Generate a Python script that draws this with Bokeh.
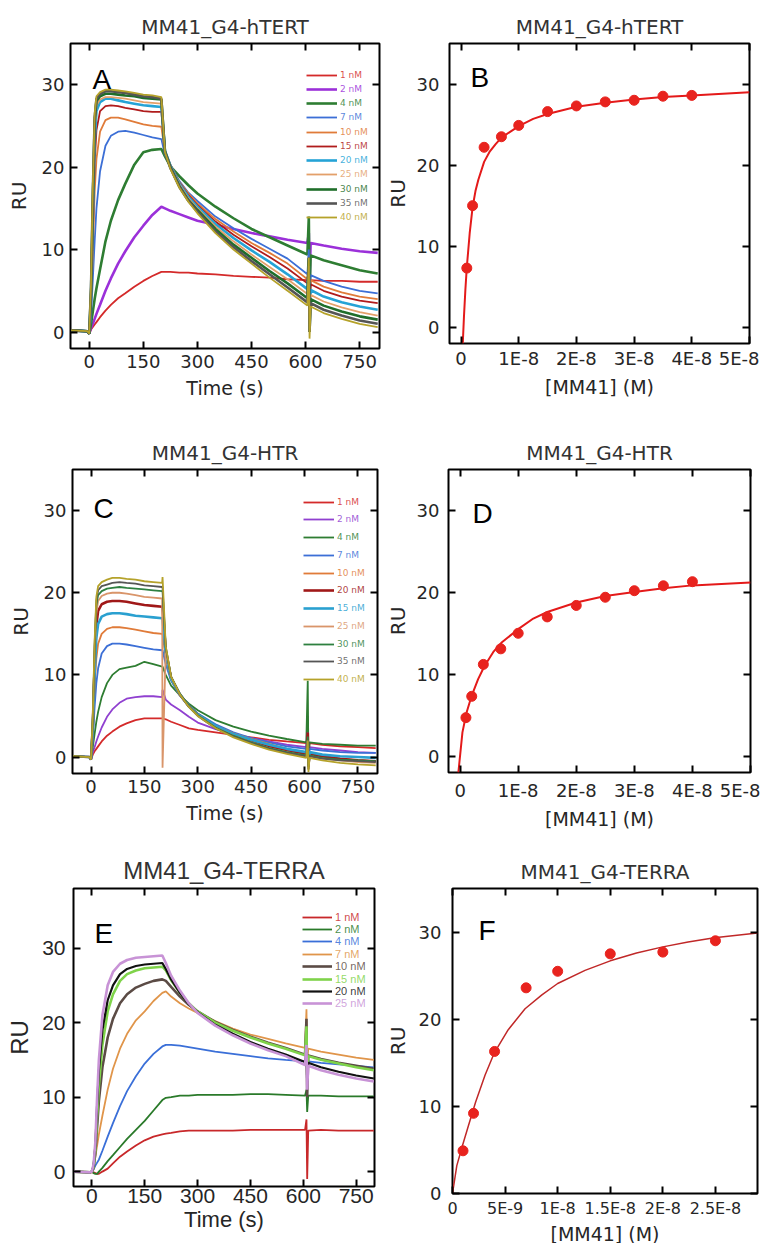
from bokeh.plotting import figure
from bokeh.models import (Range1d, LinearAxis, FixedTicker, Label, Legend, LegendItem,
                          CustomJSTickFormatter)
from bokeh.layouts import column, row
from bokeh.embed import file_html
from bokeh.resources import INLINE

# ---------------- Panel A : MM41_G4-hTERT sensorgrams ----------------
time_A = [-50, -5, 0, 5, 10, 15, 20, 30, 45, 60, 80, 100, 125, 150, 175, 200, 210, 225, 250, 275,
          300, 350, 400, 450, 500, 550, 605, 609, 611, 614, 650, 700, 750, 800]
a_1nM = [0.2, 0.1, -0.2, 0.3, 0.6, 0.9, 1.2, 1.8, 2.6, 3.3, 4.1, 4.7, 5.5, 6.2, 6.8, 7.3, 7.3, 7.3, 7.2, 7.2,
         7.1, 7.0, 6.8, 6.7, 6.6, 6.4, 6.3, 8.0, 4.0, 6.3, 6.2, 6.2, 6.1, 6.1]
a_2nM = [0.2, 0.1, -0.2, 0.5, 1.0, 1.6, 2.2, 3.3, 5.0, 6.5, 8.3, 9.8, 11.5, 12.9, 14.2, 15.2, 15.0, 14.7, 14.3, 13.9,
         13.5, 13.0, 12.5, 12.0, 11.6, 11.2, 10.8, 12.0, 6.0, 10.8, 10.5, 10.1, 9.8, 9.6]
a_4nM = [0.2, 0.1, -0.2, 1.0, 2.5, 4.0, 5.3, 7.6, 11.0, 13.5, 16.0, 18.0, 20.3, 21.8, 22.1, 22.2, 21.3, 20.1, 18.9, 17.8,
         16.8, 15.2, 13.8, 12.5, 11.5, 10.5, 9.4, 14.0, 4.0, 9.3, 8.7, 8.1, 7.5, 7.1]
a_7nM = [0.2, 0.1, -0.2, 2.0, 6.5, 11.0, 15.0, 19.5, 22.6, 23.8, 24.3, 24.4, 24.2, 23.9, 23.6, 23.4, 21.5, 20.2, 18.3, 16.9,
         15.9, 14.0, 12.6, 11.3, 10.1, 8.9, 7.0, 10.0, 3.0, 6.9, 6.2, 5.5, 5.0, 4.7]
a_10nM = [0.2, 0.1, -0.2, 3.0, 10.0, 17.0, 21.0, 24.3, 25.7, 26.0, 26.0, 25.8, 25.5, 25.2, 25.0, 24.9, 21.8, 20.3, 18.2, 16.8,
          15.6, 13.7, 12.2, 10.8, 9.6, 8.3, 6.4, 9.0, 2.0, 6.3, 5.5, 4.8, 4.3, 4.0]
a_15nM = [0.2, 0.1, -0.2, 3.5, 12.0, 20.5, 24.5, 26.8, 27.4, 27.5, 27.4, 27.2, 27.0, 26.8, 26.7, 26.7, 22.0, 20.3, 18.1, 16.6,
          15.4, 13.4, 11.8, 10.4, 9.1, 7.7, 5.9, 9.0, 2.0, 5.8, 5.0, 4.3, 3.8, 3.5]
a_20nM = [0.2, 0.1, -0.2, 4.0, 14.0, 23.0, 26.8, 27.9, 28.3, 28.3, 28.1, 27.9, 27.7, 27.5, 27.4, 27.3, 22.0, 20.2, 18.0, 16.4,
          15.2, 13.1, 11.4, 9.9, 8.5, 7.0, 5.2, 8.0, 1.0, 5.1, 4.3, 3.6, 3.1, 2.7]
a_25nM = [0.2, 0.1, -0.2, 4.5, 15.0, 24.5, 27.5, 28.2, 28.5, 28.5, 28.4, 28.3, 28.1, 27.9, 27.8, 27.7, 22.0, 20.1, 17.9, 16.2,
          15.0, 12.8, 11.0, 9.4, 7.9, 6.4, 4.6, 8.0, 1.0, 4.5, 3.7, 3.0, 2.4, 2.0]
a_30nM = [0.2, 0.1, -0.2, 5.0, 16.0, 25.5, 28.0, 28.6, 28.9, 28.9, 28.8, 28.7, 28.6, 28.4, 28.3, 28.2, 21.9, 20.0, 17.7, 16.0,
          14.8, 12.5, 10.6, 9.0, 7.4, 5.9, 4.1, 9.0, 0.0, 4.0, 3.2, 2.5, 1.9, 1.5]
a_35nM = [0.2, 0.1, -0.2, 5.5, 17.0, 26.0, 28.3, 28.9, 29.2, 29.2, 29.1, 29.0, 28.8, 28.6, 28.5, 28.3, 21.8, 19.9, 17.6, 15.9,
          14.6, 12.2, 10.3, 8.6, 7.0, 5.4, 3.6, 8.0, 0.0, 3.5, 2.7, 2.0, 1.4, 1.0]
a_40nM = [0.2, 0.1, -0.2, 6.0, 18.0, 26.5, 28.6, 29.1, 29.4, 29.4, 29.3, 29.2, 29.0, 28.8, 28.7, 28.5, 21.8, 19.8, 17.5, 15.8,
          14.4, 12.0, 10.0, 8.3, 6.6, 5.0, 3.2, 9.0, -0.8, 3.1, 2.3, 1.6, 1.0, 0.6]
labels_A = ["1 nM", "2 nM", "4 nM", "7 nM", "10 nM", "15 nM", "20 nM", "25 nM", "30 nM", "35 nM", "40 nM"]
series_A = [a_1nM, a_2nM, a_4nM, a_7nM, a_10nM, a_15nM, a_20nM, a_25nM, a_30nM, a_35nM, a_40nM]
colors_A = ["#d42a2a", "#9b30d9", "#2e7d32", "#3c6fd6", "#e07b39", "#b01c1c", "#25a3d6", "#e3a06a",
            "#1f6e2a", "#555555", "#b5a22a"]
widths_A = [1.8, 2.6, 2.6, 1.8, 1.8, 1.8, 2.6, 1.8, 2.6, 2.6, 1.8]

# ---------------- Panel C : MM41_G4-HTR sensorgrams ----------------
time_C = [-50, -5, 0, 5, 10, 15, 20, 30, 45, 60, 80, 100, 125, 150, 175, 200, 201, 210, 225, 250, 275,
          300, 350, 400, 450, 500, 550, 605, 609, 611, 614, 650, 700, 750, 800]
c_1nM = [0.1, 0.0, -0.3, 0.3, 0.7, 1.0, 1.3, 1.9, 2.6, 3.1, 3.7, 4.1, 4.5, 4.7, 4.7, 4.7, 4.7, 4.6, 4.3, 3.9, 3.5,
         3.3, 3.0, 2.7, 2.4, 2.1, 1.9, 1.7, 2.0, 0.0, 1.7, 1.5, 1.3, 1.2, 1.1]
c_2nM = [0.1, 0.0, -0.3, 0.6, 1.2, 1.9, 2.5, 3.6, 4.9, 5.8, 6.6, 7.1, 7.3, 7.4, 7.4, 7.3, 8.2, 7.0, 6.4, 5.7, 4.9,
         4.2, 3.4, 2.8, 2.3, 1.9, 1.5, 1.2, 5.0, -0.5, 1.2, 1.0, 0.8, 0.6, 0.5]
c_4nM = [0.1, 0.0, -0.3, 1.2, 2.8, 4.3, 5.5, 7.3, 9.0, 10.0, 10.7, 10.9, 11.1, 11.6, 11.3, 11.0, 11.0, 10.0, 8.7, 7.5, 6.5,
         5.7, 4.5, 3.7, 3.1, 2.6, 2.2, 1.8, 9.3, -1.0, 1.8, 1.6, 1.5, 1.4, 1.4]
c_7nM = [0.1, 0.0, -0.3, 2.2, 6.0, 9.0, 10.8, 12.6, 13.5, 13.8, 13.8, 13.7, 13.5, 13.3, 13.1, 13.0, 13.0, 11.3, 9.3, 7.5, 6.3,
         5.3, 4.0, 3.0, 2.3, 1.8, 1.3, 1.0, 3.0, -1.0, 1.0, 0.8, 0.6, 0.5, 0.5]
c_10nM = [0.1, 0.0, -0.3, 3.0, 8.5, 12.0, 13.8, 15.0, 15.6, 15.8, 15.8, 15.7, 15.5, 15.3, 15.1, 15.0, 15.0, 12.0, 9.4, 7.5, 6.2,
          5.2, 3.8, 2.9, 2.2, 1.6, 1.0, 0.5, 2.5, -1.0, 0.5, 0.1, -0.2, -0.4, -0.5]
c_20nM = [0.1, 0.0, -0.3, 3.8, 11.0, 16.0, 17.8, 18.6, 18.9, 19.0, 19.0, 18.9, 18.7, 18.5, 18.4, 18.3, 18.3, 12.8, 9.6, 7.6, 6.2,
          5.2, 3.7, 2.7, 2.0, 1.3, 0.8, 0.4, 3.0, -1.0, 0.4, 0.1, -0.2, -0.4, -0.5]
c_15nM = [0.1, 0.0, -0.3, 3.5, 10.0, 14.5, 16.2, 17.1, 17.4, 17.5, 17.5, 17.4, 17.2, 17.1, 17.0, 16.9, 16.9, 12.5, 9.5, 7.6, 6.2,
          5.2, 3.8, 2.8, 2.1, 1.5, 1.0, 0.6, 2.0, -1.0, 0.6, 0.3, 0.1, 0.0, -0.1]
c_25nM = [0.1, 0.0, -0.3, 4.2, 12.0, 17.5, 19.0, 19.6, 19.9, 20.0, 20.0, 19.9, 19.7, 19.5, 19.4, 19.3, -1.3, 13.0, 9.7, 7.6, 6.2,
          5.1, 3.6, 2.6, 1.8, 1.1, 0.6, 0.1, 2.0, -1.5, 0.1, -0.2, -0.4, -0.6, -0.7]
c_30nM = [0.1, 0.0, -0.3, 4.5, 13.0, 18.5, 19.7, 20.2, 20.5, 20.6, 20.7, 20.6, 20.5, 20.4, 20.3, 20.2, 20.2, 13.3, 9.8, 7.7, 6.2,
          5.1, 3.6, 2.6, 1.8, 1.1, 0.6, 0.2, 2.5, -1.2, 0.2, -0.1, -0.3, -0.4, -0.5]
c_35nM = [0.1, 0.0, -0.3, 4.8, 13.5, 19.0, 20.3, 20.8, 21.0, 21.2, 21.3, 21.2, 21.1, 20.9, 20.8, 20.7, 20.7, 13.4, 9.8, 7.6, 6.1,
          5.0, 3.5, 2.5, 1.7, 1.0, 0.5, 0.1, 2.0, -1.5, 0.1, -0.2, -0.4, -0.5, -0.6]
c_40nM = [0.1, 0.0, -0.3, 5.0, 14.0, 19.5, 20.8, 21.3, 21.6, 21.8, 21.8, 21.7, 21.6, 21.4, 21.3, 21.2, 21.9, 13.5, 9.8, 7.6, 6.1,
          5.0, 3.5, 2.4, 1.6, 0.9, 0.4, -0.1, 2.0, -1.8, -0.1, -0.4, -0.7, -0.9, -1.0]
labels_C = ["1 nM", "2 nM", "4 nM", "7 nM", "10 nM", "20 nM", "15 nM", "25 nM", "30 nM", "35 nM", "40 nM"]
series_C = [c_1nM, c_2nM, c_4nM, c_7nM, c_10nM, c_20nM, c_15nM, c_25nM, c_30nM, c_35nM, c_40nM]
colors_C = ["#d42a2a", "#9040d0", "#2e7d32", "#3c6fd6", "#e07b39", "#a01818", "#2aa0d0", "#d9956a",
            "#2e8040", "#555555", "#b5a22a"]
widths_C = [1.8, 1.8, 1.8, 1.8, 1.8, 2.6, 2.6, 1.8, 1.8, 1.8, 1.8]

# ---------------- Panel E : MM41_G4-TERRA sensorgrams ----------------
time_E = [-50, -5, 0, 5, 10, 15, 20, 30, 45, 60, 80, 100, 125, 150, 175, 200, 210, 225, 250, 275,
          300, 350, 400, 450, 500, 550, 605, 609, 611, 614, 650, 700, 750, 800]
e_1nM = [0.0, -0.1, -0.1, -0.1, -0.2, -0.3, -0.3, 0.0, 0.4, 1.1, 2.0, 2.7, 3.5, 4.2, 4.7, 5.0, 5.1, 5.2, 5.4, 5.5,
         5.5, 5.5, 5.5, 5.6, 5.6, 5.6, 5.6, 7.0, -1.0, 5.5, 5.6, 5.5, 5.5, 5.5]
e_2nM = [0.0, -0.1, 0.0, -0.2, -0.3, -0.3, 0.0, 0.5, 1.4, 2.2, 3.3, 4.4, 5.6, 6.8, 8.2, 9.6, 9.9, 10.0, 10.2, 10.2,
         10.3, 10.3, 10.3, 10.4, 10.4, 10.3, 10.2, 11.0, 8.0, 10.2, 10.2, 10.1, 10.1, 10.1]
e_4nM = [0.0, -0.1, 0.0, 0.3, 0.8, 1.2, 1.6, 2.8, 4.7, 6.5, 8.8, 10.8, 12.8, 14.5, 15.8, 16.8, 17.0, 17.0, 16.9, 16.7,
         16.5, 16.1, 15.8, 15.5, 15.2, 15.0, 14.8, 15.5, 13.5, 14.8, 14.6, 14.4, 14.2, 14.0]
e_7nM = [0.0, -0.1, 0.0, 0.5, 2.0, 3.5, 5.0, 7.5, 11.0, 13.8, 16.5, 18.5, 20.3, 21.5, 22.9, 24.0, 24.2, 23.5, 22.6, 21.9,
         21.3, 20.2, 19.2, 18.4, 17.8, 17.2, 16.6, 21.8, 15.0, 16.5, 16.1, 15.7, 15.3, 15.0]
e_10nM = [0.0, -0.1, 0.0, 0.5, 2.5, 6.0, 9.5, 14.0, 18.0, 20.5, 22.6, 23.8, 24.7, 25.2, 25.6, 25.8, 25.6, 24.8, 23.5, 22.4,
          21.5, 20.1, 19.0, 18.1, 17.3, 16.6, 15.7, 20.5, 10.0, 15.6, 15.1, 14.6, 14.2, 13.8]
e_15nM = [0.0, -0.1, 0.0, 0.6, 3.0, 7.5, 11.5, 17.0, 21.5, 23.8, 25.6, 26.5, 27.0, 27.3, 27.4, 27.5, 27.0, 25.7, 24.0, 22.6,
          21.5, 20.0, 18.9, 18.0, 17.2, 16.5, 15.6, 19.5, 13.0, 15.5, 15.0, 14.5, 14.0, 13.6]
e_20nM = [0.0, -0.1, 0.0, 0.8, 3.5, 9.0, 13.5, 19.0, 23.0, 25.0, 26.5, 27.2, 27.6, 27.8, 27.9, 28.0, 27.2, 25.8, 24.0, 22.5,
          21.4, 19.7, 18.5, 17.4, 16.5, 15.7, 14.7, 16.0, 12.0, 14.6, 14.0, 13.4, 12.9, 12.5]
e_25nM = [0.0, -0.1, 0.0, 1.0, 4.0, 10.0, 15.0, 21.0, 25.0, 26.8, 27.9, 28.4, 28.7, 28.8, 28.9, 29.0, 28.0, 26.3, 24.3, 22.6,
          21.3, 19.6, 18.3, 17.2, 16.3, 15.5, 14.3, 17.0, 11.0, 14.2, 13.6, 13.0, 12.5, 12.1]
labels_E = ["1 nM", "2 nM", "4 nM", "7 nM", "10 nM", "15 nM", "20 nM", "25 nM"]
series_E = [e_1nM, e_2nM, e_4nM, e_7nM, e_10nM, e_15nM, e_20nM, e_25nM]
colors_E = ["#c8282a", "#2a7a2a", "#3a6fd8", "#e0954a", "#5b4b45", "#7fd34a", "#111111", "#c893d6"]
widths_E = [1.8, 1.8, 1.8, 1.8, 2.6, 2.6, 2.2, 2.6]

# ---------------- Panels B, D, F : steady-state binding ----------------
conc_B_nM = [1, 2, 4, 7, 10, 15, 20, 25, 30, 35, 40]
ru_B = [7.3, 15.0, 22.2, 23.5, 24.9, 26.6, 27.3, 27.8, 28.0, 28.5, 28.6]
fit_B_x_nM = [0.3, 0.5, 0.75, 1.0, 1.5, 2.0, 2.5, 3.0, 4.0, 5.0, 6.0, 7.0, 8.5, 10, 12.5, 15, 20, 25, 30, 35, 40, 50]
fit_B_y = [-2.0, 1.2, 4.6, 7.4, 11.6, 14.8, 16.8, 18.2, 20.4, 21.7, 22.6, 23.4, 24.1, 24.8, 25.7, 26.3, 27.2, 27.7,
           28.1, 28.4, 28.6, 29.0]

conc_D_nM = [1, 2, 4, 7, 10, 15, 20, 25, 30, 35, 40]
ru_D = [4.7, 7.3, 11.2, 13.1, 15.0, 17.0, 18.4, 19.4, 20.2, 20.8, 21.3]
fit_D_x_nM = [-0.3, 0.4, 1.1, 2.0, 3.1, 4.2, 5.8, 7.2, 10, 12.6, 15, 20, 25, 30, 35, 40, 50]
fit_D_y = [-2.0, 2.9, 5.3, 7.4, 9.4, 11.0, 12.8, 13.9, 15.5, 16.8, 17.6, 18.75, 19.55, 20.05, 20.5, 20.85, 21.2]

conc_F_nM = [1, 2, 4, 7, 10, 15, 20, 25]
ru_F = [4.9, 9.2, 16.3, 23.6, 25.5, 27.5, 27.7, 29.0]
fit_F_x_nM = [0, 0.41, 0.95, 1.52, 2.2, 3.1, 4.0, 5.3, 6.9, 8.5, 10, 12.6, 15, 17.5, 20, 22.4, 24.9, 29]
fit_F_y = [0, 3.2, 5.5, 7.8, 10.5, 13.6, 16.2, 18.8, 21.2, 22.8, 24.1, 25.6, 26.7, 27.6, 28.3, 28.85, 29.35, 29.9]

time_ticks = [0, 150, 300, 450, 600, 750]
ru_ticks = [0, 10, 20, 30]
conc_ticks_BD = [0, 1e-8, 2e-8, 3e-8, 4e-8, 5e-8]
conc_ticks_F = [0, 5e-9, 1e-8, 1.5e-8, 2e-8, 2.5e-8]

DJ = "DejaVu Sans"
LS = "Liberation Sans"
TXT = "#262626"


def sci_fmt():
    return CustomJSTickFormatter(code="""
        if (Math.abs(tick) < 1e-15) { return "0"; }
        var e = Math.floor(Math.log10(Math.abs(tick)) + 1e-9);
        var m = Math.round(tick / Math.pow(10, e) * 10) / 10;
        return m + "E" + e;
    """)


def make_fig(fw, fh, xr, yr, bl, br, bt, bb, title, tfont, tsize):
    p = figure(frame_width=fw, frame_height=fh, x_range=Range1d(*xr), y_range=Range1d(*yr),
               min_border_left=bl, min_border_right=br, min_border_top=bt, min_border_bottom=bb,
               toolbar_location=None, tools="", output_backend="svg")
    p.xgrid.visible = False
    p.ygrid.visible = False
    p.outline_line_color = "black"
    p.outline_line_width = 2
    p.outline_line_alpha = 1.0
    p.background_fill_color = "white"
    p.border_fill_color = "white"
    p.title.text = title
    p.title.align = "center"
    p.title.text_font = tfont
    p.title.text_font_size = tsize
    p.title.text_font_style = "normal"
    p.title.text_color = "#333333"
    p.title.standoff = 10
    return p


def style_axes(p, xticks, yticks, font, ytick_fs, xtick_fs, xlab_fs, ylab_fs, xlabel, ylabel,
               xfmt=None, xst=4, yst=6, xlst=4, ylst=8):
    xa = p.xaxis[0]
    ya = p.yaxis[0]
    xa.ticker = FixedTicker(ticks=xticks)
    ya.ticker = FixedTicker(ticks=yticks)
    if xfmt is not None:
        xa.formatter = xfmt
    for ax, fs, st, lfs, lst, lab in ((xa, xtick_fs, xst, xlab_fs, xlst, xlabel),
                                      (ya, ytick_fs, yst, ylab_fs, ylst, ylabel)):
        ax.major_tick_in = 7
        ax.major_tick_out = 0
        ax.major_tick_line_width = 2
        ax.major_tick_line_color = "black"
        ax.minor_tick_line_color = None
        ax.axis_line_color = None
        ax.major_label_text_font = font
        ax.major_label_text_font_size = fs
        ax.major_label_text_color = TXT
        ax.major_label_standoff = st
        ax.axis_label = lab
        ax.axis_label_text_font = font
        ax.axis_label_text_font_size = lfs
        ax.axis_label_text_font_style = "normal"
        ax.axis_label_text_color = TXT
        ax.axis_label_standoff = lst
    for side, ticks in (("above", xticks), ("right", yticks)):
        ax = LinearAxis(ticker=FixedTicker(ticks=ticks),
                        formatter=CustomJSTickFormatter(code="return '';"),
                        major_tick_in=7, major_tick_out=0, major_tick_line_width=2,
                        major_tick_line_color="black", minor_tick_line_color=None,
                        axis_line_color=None, major_label_text_font_size="0px",
                        major_label_standoff=0)
        p.add_layout(ax, side)


def add_letter(p, text, x, y):
    p.add_layout(Label(x=x, y=y, x_units="screen", y_units="screen", text=text,
                       text_font=LS, text_font_size="28px", text_color="black",
                       text_baseline="alphabetic", text_align="left"))


def add_sensor_lines(p, t, series, colors, widths):
    rs = []
    for vals, col, w in zip(series, colors, widths):
        rs.append(p.line(x=t, y=vals, line_color=col, line_width=w))
    return rs


def add_legend(p, renderers, labels, colors, x0, y0c, dy, gw, font, fs):
    h = 12
    for i, (r, lab, col) in enumerate(zip(renderers, labels, colors)):
        lg = Legend(items=[LegendItem(label=lab, renderers=[r])],
                    location=(x0, y0c - i * dy - h / 2),
                    orientation="vertical", glyph_width=gw, glyph_height=h, label_height=h,
                    label_width=10, label_standoff=3, padding=0, margin=0, spacing=0,
                    border_line_color=None, background_fill_alpha=0,
                    label_text_font=font, label_text_font_size=fs,
                    label_text_color=col, label_text_alpha=0.85)
        p.add_layout(lg)


# ---- A
pA = make_fig(309, 305, (-52, 805), (-2, 35), 70, 3, 41, 61, "MM41_G4-hTERT", DJ, "20px")
style_axes(pA, time_ticks, ru_ticks, DJ, "18px", "18px", "19px", "20px", "Time (s)", "RU",
           xst=6, xlst=6)
rA = add_sensor_lines(pA, time_A, series_A, colors_A, widths_A)
add_legend(pA, rA, labels_A, colors_A, 236, 273.5, 14.27, 31, DJ, "9px")
add_letter(pA, "A", 22, 269)

# ---- B
pB = make_fig(300, 300, (-2e-9, 5e-8), (-2, 35), 62, 10, 43, 64, "MM41_G4-hTERT", DJ, "20px")
style_axes(pB, conc_ticks_BD, ru_ticks, DJ, "18px", "18px", "19px", "20px", "[MM41] (M)", "RU",
           xfmt=sci_fmt(), yst=10, ylst=4)
pB.line(x=[v * 1e-9 for v in fit_B_x_nM], y=fit_B_y, line_color="#e41a1a", line_width=2)
pB.scatter(x=[v * 1e-9 for v in conc_B_nM], y=ru_B, marker="circle", size=10,
           fill_color="#e8231e", line_color="#e8231e")
add_letter(pB, "B", 21, 266)

# ---- C
pC = make_fig(305, 304, (-52, 805), (-2, 35), 72, 5, 62, 57, "MM41_G4-HTR", DJ, "20px")
style_axes(pC, time_ticks, ru_ticks, DJ, "18px", "18px", "19px", "20px", "Time (s)", "RU",
           xst=6, xlst=6)
rC = add_sensor_lines(pC, time_C, series_C, colors_C, widths_C)
add_legend(pC, rC, labels_C, colors_C, 231, 271.5, 17.76, 31, DJ, "9px")
add_letter(pC, "C", 21, 265)

# ---- D
pD = make_fig(302, 303, (-2e-9, 5e-8), (-2, 35), 59, 10, 62, 58, "MM41_G4-HTR", DJ, "20px")
style_axes(pD, conc_ticks_BD, ru_ticks, DJ, "18px", "18px", "19px", "20px", "[MM41] (M)", "RU",
           xfmt=sci_fmt(), xst=7, yst=9, ylst=4)
pD.line(x=[v * 1e-9 for v in fit_D_x_nM], y=fit_D_y, line_color="#e41a1a", line_width=2)
pD.scatter(x=[v * 1e-9 for v in conc_D_nM], y=ru_D, marker="circle", size=10,
           fill_color="#e8231e", line_color="#e8231e")
add_letter(pD, "D", 24, 259)

# ---- E
pE = make_fig(301, 298, (-52, 802), (-2, 38), 73, 8, 56, 51, "MM41_G4-TERRA", LS, "24px")
style_axes(pE, time_ticks, ru_ticks, LS, "21px", "21px", "22px", "24px", "Time (s)", "RU",
           xst=2, yst=8, xlst=1, ylst=6)
rE = add_sensor_lines(pE, time_E, series_E, colors_E, widths_E)
add_legend(pE, rE, labels_E, colors_E, 229, 269.5, 12.4, 30, LS, "11px")
add_letter(pE, "E", 21, 253)

# ---- F
pF = make_fig(305, 305, (0, 2.9e-8), (0, 35), 64, 8, 52, 48, "MM41_G4-TERRA", DJ, "20px")
style_axes(pF, conc_ticks_F, ru_ticks, DJ, "18px", "16px", "19px", "20px", "[MM41] (M)", "RU",
           xfmt=sci_fmt(), xst=5, yst=11, xlst=2, ylst=6)
pF.line(x=[v * 1e-9 for v in fit_F_x_nM], y=fit_F_y, line_color="#c02828", line_width=1.5)
pF.scatter(x=[v * 1e-9 for v in conc_F_nM], y=ru_F, marker="circle", size=10,
           fill_color="#e8231e", line_color="#e8231e")
add_letter(pF, "F", 26, 263)

layout = column(row(pA, pB), row(pC, pD), row(pE, pF))
open("out.html", "w").write(file_html(layout, INLINE))
